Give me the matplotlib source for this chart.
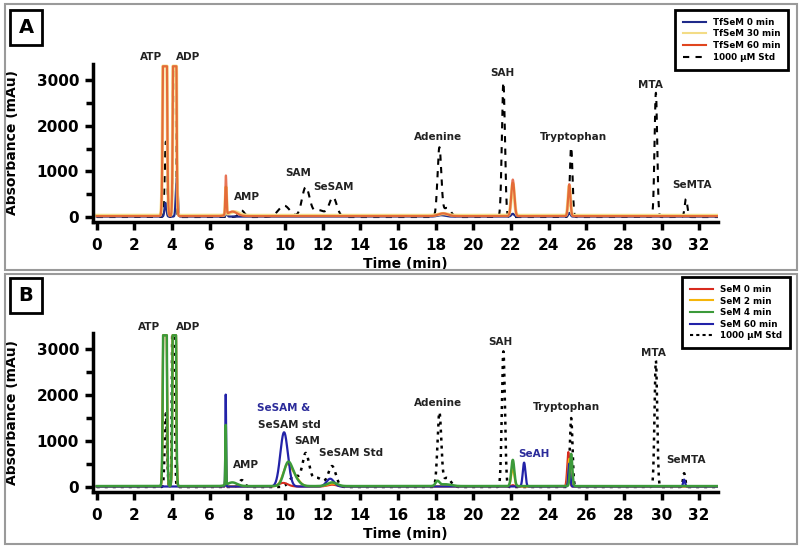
import numpy as np
import matplotlib.pyplot as plt
from matplotlib.patches import Rectangle
from matplotlib.lines import Line2D
from matplotlib.ticker import MultipleLocator

plt.rcParams['font.family'] = ['DejaVu Sans']
plt.rcParams['font.weight'] = 'bold'

# detector saturation (mAu)
cap = 3300

# --- Panel A peak tables: retention time (min), height (mAu), sigma (min) ---
tf0_t = [3.65, 4.25, 6.9, 18.3, 22.1, 25.1]
tf0_h = [300, 850, 100, 30, 60, 80]
tf0_w = [0.05, 0.05, 0.04, 0.2, 0.08, 0.06]
tf0_base = 10

tf30_t = [3.62, 4.14, 6.86, 7.3, 18.4, 22.1, 25.1]
tf30_h = [14000, 14000, 600, 80, 40, 700, 650]
tf30_w = [0.065, 0.055, 0.03, 0.25, 0.25, 0.08, 0.06]
tf30_base = 35

tf60_t = [3.62, 4.14, 6.86, 7.2, 18.4, 22.1, 25.1]
tf60_h = [14000, 14000, 850, 100, 60, 800, 700]
tf60_w = [0.065, 0.055, 0.03, 0.25, 0.25, 0.08, 0.06]
tf60_base = 20

stdA_t = [3.67, 4.12, 7.7, 9.95, 11.1, 11.8, 12.55, 18.2, 18.6, 21.6, 25.2, 29.7, 31.3]
stdA_h = [1650, 9000, 140, 250, 650, 150, 430, 1500, 200, 2950, 1530, 2720, 400]
stdA_w = [0.06, 0.05, 0.15, 0.3, 0.2, 0.3, 0.2, 0.1, 0.2, 0.08, 0.07, 0.07, 0.07]
stdA_base = 0

# --- Panel B peak tables ---
sem0_t = [3.62, 4.12, 6.85, 9.9, 12.5, 22.1, 25.05]
sem0_h = [14000, 14000, 600, 80, 40, 30, 750]
sem0_w = [0.06, 0.055, 0.02, 0.25, 0.25, 0.08, 0.06]
sem0_base = 10

sem2_t = [3.62, 4.12, 6.85, 10.1, 10.5, 12.5, 22.1, 25.1]
sem2_h = [14000, 14000, 1000, 420, 200, 60, 400, 600]
sem2_w = [0.06, 0.055, 0.02, 0.22, 0.25, 0.25, 0.08, 0.06]
sem2_base = 15

sem4_t = [3.62, 4.12, 6.85, 7.2, 10.15, 10.5, 12.5, 18.1, 18.5, 22.1, 25.2]
sem4_h = [14000, 14000, 1300, 80, 470, 150, 80, 100, 40, 570, 700]
sem4_w = [0.06, 0.055, 0.02, 0.25, 0.22, 0.25, 0.25, 0.1, 0.3, 0.08, 0.06]
sem4_base = 20

sem60_t = [6.85, 9.95, 12.4, 22.7, 25.1, 31.2]
sem60_h = [2000, 1180, 170, 520, 500, 150]
sem60_w = [0.02, 0.2, 0.2, 0.07, 0.05, 0.05]
sem60_base = 10

stdB_t = [3.67, 4.07, 7.7, 10.5, 11.1, 11.7, 12.5, 18.2, 18.6, 21.6, 25.2, 29.7, 31.2]
stdB_h = [1600, 9000, 150, 250, 700, 200, 450, 1600, 200, 2950, 1500, 2750, 300]
stdB_w = [0.06, 0.05, 0.15, 0.25, 0.18, 0.3, 0.2, 0.1, 0.2, 0.08, 0.07, 0.07, 0.06]
stdB_base = 0

# peak labels: text, x, y, colour
labA = [("ATP", 2.9, 3500, "#222222"), ("ADP", 4.85, 3500, "#222222"),
        ("AMP", 8.0, 440, "#222222"), ("SAM", 10.7, 960, "#222222"),
        ("SeSAM", 12.6, 660, "#222222"), ("Adenine", 18.15, 1750, "#222222"),
        ("SAH", 21.55, 3150, "#222222"), ("Tryptophan", 25.3, 1750, "#222222"),
        ("MTA", 29.4, 2890, "#222222"), ("SeMTA", 31.6, 700, "#222222")]
labB = [("ATP", 2.8, 3480, "#222222"), ("ADP", 4.85, 3480, "#222222"),
        ("AMP", 7.95, 480, "#222222"), ("SeSAM &", 9.9, 1720, "#2b2b9a"),
        ("SeSAM std", 10.25, 1350, "#222222"), ("SAM", 11.2, 1000, "#222222"),
        ("SeSAM Std", 13.5, 730, "#222222"), ("Adenine", 18.15, 1830, "#222222"),
        ("SAH", 21.45, 3150, "#222222"), ("SeAH", 23.2, 720, "#2b2b9a"),
        ("Tryptophan", 24.95, 1740, "#222222"), ("MTA", 29.55, 2910, "#222222"),
        ("SeMTA", 31.3, 590, "#222222")]

t = np.linspace(0, 33, 6601)


def trace(times, heights, widths, base):
    y = np.full_like(t, float(base))
    for c, h, w in zip(times, heights, widths):
        y += h * np.exp(-0.5 * ((t - c) / w) ** 2)
    return np.minimum(y, cap)


fig = plt.figure(figsize=(8, 5.48), dpi=100)
W, H = 800, 548


def fig_rect(x0, y0, x1, y1, **kw):
    fig.patches.append(Rectangle((x0 / W, 1 - y1 / H), (x1 - x0) / W, (y1 - y0) / H,
                                 transform=fig.transFigure, fill=False, **kw))


# panel frames and letter boxes
fig_rect(5, 4, 797, 270, lw=1.5, edgecolor="#9a9a9a")
fig_rect(5, 274, 797, 544, lw=1.5, edgecolor="#9a9a9a")
fig_rect(10, 10, 42, 45, lw=2, edgecolor="black")
fig_rect(10, 278, 42, 313, lw=2, edgecolor="black")
fig.text(26 / W, 1 - 27.5 / H, "A", fontsize=14, ha="center", va="center")
fig.text(26 / W, 1 - 295.5 / H, "B", fontsize=14, ha="center", va="center")

axA = fig.add_axes([93 / W, 1 - 221.6 / H, 625 / W, 157.6 / H])
axB = fig.add_axes([93 / W, 1 - 491.6 / H, 625 / W, 158.6 / H])

cA = {"0": "#1f2a8a", "30": "#f3dc86", "60": "#e0451e"}
axA.plot(t, trace(stdA_t, stdA_h, stdA_w, stdA_base), color="black", lw=1.5, ls=(0, (3, 3)))
axA.plot(t, trace(tf0_t, tf0_h, tf0_w, tf0_base), color=cA["0"], lw=1.6)
axA.plot(t, trace(tf30_t, tf30_h, tf30_w, tf30_base), color=cA["30"], lw=2.4)
axA.plot(t, trace(tf60_t, tf60_h, tf60_w, tf60_base), color=cA["60"], lw=1.6, alpha=0.75)

cB = {"0": "#d82a1e", "2": "#f5b50a", "4": "#3c9a3a", "60": "#2222a8"}
axB.plot(t, trace(stdB_t, stdB_h, stdB_w, stdB_base), color="black", lw=1.8, ls=(0, (1.2, 2)))
axB.plot(t, trace(sem0_t, sem0_h, sem0_w, sem0_base), color=cB["0"], lw=1.5)
axB.plot(t, trace(sem2_t, sem2_h, sem2_w, sem2_base), color=cB["2"], lw=1.5)
axB.plot(t, trace(sem60_t, sem60_h, sem60_w, sem60_base), color=cB["60"], lw=1.6)
axB.plot(t, trace(sem4_t, sem4_h, sem4_w, sem4_base), color=cB["4"], lw=1.8)

for ax, labs in ((axA, labA), (axB, labB)):
    ax.set_xlim(-0.2, 33)
    ax.set_ylim(-100, 3350)
    ax.set_xticks(np.arange(0, 33, 2))
    ax.set_yticks([0, 1000, 2000, 3000])
    ax.yaxis.set_minor_locator(MultipleLocator(500))
    for s in ("top", "right"):
        ax.spines[s].set_visible(False)
    for s in ("left", "bottom"):
        ax.spines[s].set_linewidth(2.5)
    ax.tick_params(which="both", direction="out", length=6, width=2.5, labelsize=11)
    ax.tick_params(axis="x", pad=6)
    ax.tick_params(axis="y", pad=4)
    ax.tick_params(axis="y", which="minor", length=5)
    ax.set_xlabel("Time (min)", fontsize=10, fontweight="bold")
    ax.set_ylabel("Absorbance (mAu)", fontsize=10, fontweight="bold")
    ax.xaxis.set_label_coords(0.5, -0.222)
    ax.yaxis.set_label_coords(-0.118, 0.5)
    for txt, x, y, col in labs:
        ax.text(x, y, txt, fontsize=7.5, ha="center", va="center", color=col, clip_on=False)

hA = [Line2D([], [], color=cA["0"], lw=1.5), Line2D([], [], color=cA["30"], lw=1.5),
      Line2D([], [], color=cA["60"], lw=1.5),
      Line2D([], [], color="black", lw=1.5, ls=(0, (3, 3)))]
legA = axA.legend(hA, ["TfSeM 0 min", "TfSeM 30 min", "TfSeM 60 min", "1000 \u00b5M Std"],
                  loc="upper right", bbox_to_anchor=(788 / W, 1 - 10 / H),
                  bbox_transform=fig.transFigure, borderaxespad=0, fontsize=6.3,
                  fancybox=False, handlelength=2.6, labelspacing=0.3, borderpad=0.9,
                  framealpha=1)
legA.get_frame().set_edgecolor("black")
legA.get_frame().set_linewidth(2)

hB = [Line2D([], [], color=cB["0"], lw=1.5), Line2D([], [], color=cB["2"], lw=1.5),
      Line2D([], [], color=cB["4"], lw=1.5), Line2D([], [], color=cB["60"], lw=1.5),
      Line2D([], [], color="black", lw=1.5, ls=(0, (1.5, 1.5)))]
legB = axB.legend(hB, ["SeM 0 min", "SeM 2 min", "SeM 4 min", "SeM 60 min", "1000 \u00b5M Std"],
                  loc="upper right", bbox_to_anchor=(790 / W, 1 - 277 / H),
                  bbox_transform=fig.transFigure, borderaxespad=0, fontsize=6.3,
                  fancybox=False, handlelength=2.6, labelspacing=0.3, borderpad=0.9,
                  framealpha=1)
legB.get_frame().set_edgecolor("black")
legB.get_frame().set_linewidth(2)

fig.savefig("out.png", dpi=100)
